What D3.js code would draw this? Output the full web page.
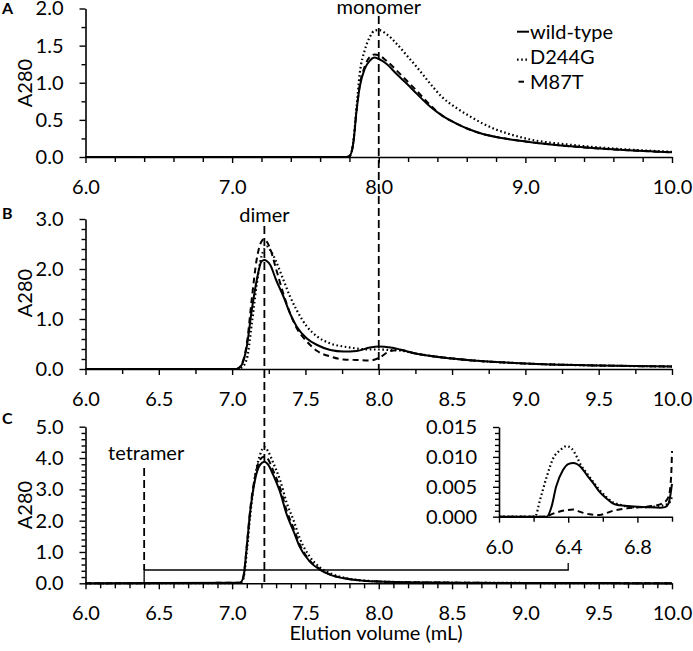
<!DOCTYPE html>
<html><head><meta charset="utf-8">
<script src="https://cdn.jsdelivr.net/npm/d3@7"></script>
<style>
body{margin:0;background:#fff}
svg text{font-family:Lato,'Open Sans',sans-serif;fill:#000}
</style>
</head><body>
<svg id="c" width="693" height="651"></svg>
<script>
// ---------- DATA ----------
const seriesNames = ["wild-type", "D244G", "M87T"];

// Panel A (monomer)
const aX      = [6.0, 7.78, 7.80, 7.826, 7.849, 7.87, 7.905, 7.94, 7.97, 8.0, 8.05, 8.12, 8.19, 8.26, 8.35, 8.43, 8.53, 8.62, 8.71, 8.80, 8.89, 9.0, 9.33, 9.67, 10.0];
const aWild   = [0, 0, 0.01, 0.18, 0.63, 0.94, 1.19, 1.30, 1.34, 1.32, 1.26, 1.12, 0.99, 0.85, 0.68, 0.56, 0.45, 0.37, 0.31, 0.27, 0.24, 0.21, 0.14, 0.094, 0.063];
const aD244G  = [0, 0, 0.01, 0.20, 0.68, 1.12, 1.44, 1.62, 1.70, 1.71, 1.66, 1.53, 1.37, 1.21, 0.99, 0.81, 0.66, 0.55, 0.45, 0.37, 0.31, 0.25, 0.16, 0.105, 0.07];
const aM87T   = [0, 0, 0.01, 0.18, 0.63, 0.96, 1.22, 1.35, 1.38, 1.37, 1.30, 1.17, 1.03, 0.89, 0.70, 0.56, 0.45, 0.37, 0.31, 0.27, 0.24, 0.21, 0.14, 0.094, 0.063];

// Panel B (dimer)
const bX      = [6.0, 7.03, 7.065, 7.10, 7.134, 7.168, 7.20, 7.22, 7.236, 7.26, 7.30, 7.35, 7.395, 7.44, 7.51, 7.58, 7.67, 7.76, 7.85, 7.94, 8.0, 8.08, 8.145, 8.25, 8.5, 9.0, 9.5, 10.0];
const bWild   = [0, 0, 0.08, 0.45, 1.18, 1.78, 2.15, 2.18, 2.16, 2.08, 1.78, 1.45, 1.11, 0.85, 0.61, 0.48, 0.38, 0.35, 0.36, 0.43, 0.45, 0.43, 0.39, 0.31, 0.21, 0.11, 0.07, 0.05];
const bD244G  = [0, 0, 0.03, 0.20, 0.90, 1.70, 2.25, 2.40, 2.45, 2.38, 2.15, 1.78, 1.45, 1.18, 0.85, 0.65, 0.51, 0.45, 0.41, 0.39, 0.39, 0.38, 0.37, 0.31, 0.21, 0.11, 0.07, 0.05];
const bM87T   = [0, 0, 0.10, 0.50, 1.40, 2.20, 2.55, 2.60, 2.55, 2.40, 2.00, 1.50, 1.12, 0.82, 0.55, 0.36, 0.25, 0.19, 0.18, 0.17, 0.22, 0.36, 0.38, 0.31, 0.21, 0.11, 0.07, 0.05];

// Panel C (tetramer)
const cX      = [6.0, 7.054, 7.077, 7.10, 7.122, 7.156, 7.19, 7.22, 7.247, 7.28, 7.33, 7.37, 7.42, 7.46, 7.53, 7.60, 7.67, 7.76, 7.895, 8.12, 8.5, 9.0, 9.7, 10.0];
const cWild   = [0, 0.02, 0.20, 1.17, 2.23, 3.30, 3.78, 3.88, 3.78, 3.46, 2.87, 2.23, 1.65, 1.17, 0.69, 0.43, 0.27, 0.16, 0.085, 0.04, 0.02, 0.01, 0.005, 0];
const cD244G  = [0, 0.01, 0.15, 1.00, 2.10, 3.40, 4.10, 4.35, 4.20, 3.85, 3.25, 2.60, 2.00, 1.45, 0.85, 0.50, 0.32, 0.18, 0.09, 0.04, 0.02, 0.01, 0.005, 0];
const cM87T   = [0, 0.02, 0.22, 1.20, 2.30, 3.40, 3.95, 4.05, 3.95, 3.60, 3.00, 2.35, 1.75, 1.25, 0.72, 0.45, 0.28, 0.17, 0.085, 0.04, 0.02, 0.01, 0.005, 0];

// Inset (panel C, 6.0 - 7.0 mL)
const iWildX  = [6.0, 6.276, 6.304, 6.33, 6.37, 6.40, 6.43, 6.47, 6.507, 6.545, 6.58, 6.62, 6.66, 6.70, 6.78, 6.85, 6.93, 6.96, 6.98, 6.99, 7.0];
const iWildY  = [0, 0, 0.0017, 0.0050, 0.0078, 0.0088, 0.0090, 0.0084, 0.0070, 0.0056, 0.0042, 0.0031, 0.0022, 0.0019, 0.0017, 0.0016, 0.0015, 0.0016, 0.0022, 0.0035, 0.0055];
const iD244GX = [6.0, 6.208, 6.237, 6.276, 6.314, 6.353, 6.39, 6.42, 6.45, 6.47, 6.507, 6.545, 6.58, 6.62, 6.66, 6.70, 6.78, 6.85, 6.93, 6.98, 7.0];
const iD244GY = [0, 0, 0.0028, 0.0067, 0.0098, 0.0111, 0.0118, 0.0114, 0.0100, 0.0088, 0.0073, 0.0058, 0.0045, 0.0033, 0.0024, 0.0020, 0.0016, 0.0016, 0.0018, 0.0022, 0.0033];
const iM87TX  = [6.0, 6.257, 6.33, 6.39, 6.43, 6.47, 6.525, 6.58, 6.66, 6.74, 6.81, 6.89, 6.95, 6.98, 6.995, 7.0];
const iM87TY  = [0, 0, 0.0007, 0.0011, 0.0012, 0.0008, 0.0004, 0.0003, 0.0010, 0.0014, 0.0016, 0.0018, 0.0023, 0.0033, 0.0067, 0.0110];

// Tick labels
const aXLabels = [6.0, 7.0, 8.0, 9.0, 10.0];
const bcXLabels = [6.0, 6.5, 7.0, 7.5, 8.0, 8.5, 9.0, 9.5, 10.0];
const aYLabels = [0.0, 0.5, 1.0, 1.5, 2.0];
const bYLabels = [0.0, 1.0, 2.0, 3.0];
const cYLabels = [0.0, 1.0, 2.0, 3.0, 4.0, 5.0];
const iXLabels = [6.0, 6.4, 6.8];
const iYLabels = [0.000, 0.005, 0.010, 0.015];

// Reference elution volumes
const markers = [{label: "monomer", v: 8.0}, {label: "dimer", v: 7.22}, {label: "tetramer", v: 6.4}];

// ---------- DRAWING ----------
const svg = d3.select('#c');
const FS = 20;
const styles = {
  "wild-type": {dash: null, w: 2},
  "D244G": {dash: "1.6,2.6", w: 2.2},
  "M87T": {dash: "6,4", w: 2}
};

const x = d3.scaleLinear().domain([6, 10]).range([85.5, 672]);

function mk(minStep, lo, hi) {
  const n = Math.round((hi - lo) / minStep);
  return d3.range(n + 1).map(i => +(lo + i * minStep).toFixed(4));
}

function drawAxes(g, xs, ys, xMinor, xLabels, xFmt, yMinor, yLabels, yFmt) {
  const isMaj = (arr, v) => arr.some(a => Math.abs(a - v) < 1e-6);
  const xa = d3.axisBottom(xs).tickValues(xMinor).tickSizeOuter(0).tickSizeInner(6).tickPadding(17)
    .tickFormat(v => isMaj(xLabels, v) ? xFmt(v) : "");
  const gx = g.append("g").attr("transform", `translate(0,${ys.range()[0]})`).call(xa);
  const ya = d3.axisLeft(ys).tickValues(yMinor).tickSizeOuter(0).tickSizeInner(6).tickPadding(16)
    .tickFormat(v => isMaj(yLabels, v) ? yFmt(v) : "");
  const gy = g.append("g").attr("transform", `translate(${xs.range()[0]},0)`).call(ya);
  [gx, gy].forEach(a => {
    a.attr("font-size", FS).attr("font-family", "Lato, 'Open Sans', sans-serif");
    a.select(".domain").attr("stroke-width", 1.6);
    a.selectAll(".tick line").attr("stroke-width", 1.4);
    a.selectAll(".tick text").attr("fill", "#000");
  });
  gx.selectAll(".tick").filter(v => !isMaj(xLabels, v)).select("line").attr("y2", 5);
  gy.selectAll(".tick").filter(v => !isMaj(yLabels, v)).select("line").attr("x2", -4);
}

function drawSeries(g, xs, ys, xsArr, ysArr, name) {
  const pts = xsArr.map((v, i) => [v, ysArr[i]]);
  const line = d3.line().x(d => xs(d[0])).y(d => ys(d[1])).curve(d3.curveMonotoneX);
  const st = styles[name];
  g.append("path").attr("d", line(pts)).attr("fill", "none").attr("stroke", "#000")
    .attr("stroke-width", st.w).attr("stroke-dasharray", st.dash)
    .attr("stroke-linejoin", "round");
}

function yTitle(cy) {
  svg.append("text").attr("transform", `translate(32,${cy}) rotate(-90)`)
    .attr("text-anchor", "middle").attr("font-size", FS).text("A280");
}
function letter(t, yb) {
  svg.append("text").attr("x", 2).attr("y", yb).attr("font-size", 16).attr("font-weight", "bold").text(t);
}

const f1 = d3.format(".1f"), f3 = d3.format(".3f");

// Panel A
const yA = d3.scaleLinear().domain([0, 2]).range([157, 8.5]);
const gA = svg.append("g");
drawAxes(gA, x, yA, mk(0.2, 6, 10), aXLabels, f1, mk(0.25, 0, 2), aYLabels, f1);
drawSeries(gA, x, yA, aX, aD244G, "D244G");
drawSeries(gA, x, yA, aX, aM87T, "M87T");
drawSeries(gA, x, yA, aX, aWild, "wild-type");
yTitle(83); letter("A", 14);

// Panel B
const yB = d3.scaleLinear().domain([0, 3]).range([369, 219]);
const gB = svg.append("g");
drawAxes(gB, x, yB, mk(0.25, 6, 10), bcXLabels, f1, mk(0.2, 0, 3), bYLabels, f1);
drawSeries(gB, x, yB, bX, bD244G, "D244G");
drawSeries(gB, x, yB, bX, bM87T, "M87T");
drawSeries(gB, x, yB, bX, bWild, "wild-type");
yTitle(293); letter("B", 219);

// Panel C
const yC = d3.scaleLinear().domain([0, 5]).range([583.3, 426.7]);
const gC = svg.append("g");
drawAxes(gC, x, yC, mk(0.1, 6, 10), bcXLabels, f1, mk(0.2, 0, 5), cYLabels, f1);
drawSeries(gC, x, yC, cX, cD244G, "D244G");
drawSeries(gC, x, yC, cX, cM87T, "M87T");
drawSeries(gC, x, yC, cX, cWild, "wild-type");
yTitle(505); letter("C", 424);

// Inset
const xi = d3.scaleLinear().domain([6, 7]).range([499, 672]);
const yi = d3.scaleLinear().domain([0, 0.015]).range([516.7, 427]);
const gI = svg.append("g");
drawAxes(gI, xi, yi, mk(0.2, 6, 7), iXLabels, f1, mk(0.001, 0, 0.015), iYLabels, f3);
drawSeries(gI, xi, yi, iD244GX, iD244GY, "D244G");
drawSeries(gI, xi, yi, iM87TX, iM87TY, "M87T");
drawSeries(gI, xi, yi, iWildX, iWildY, "wild-type");

// Bracket linking main axis (6.4) to inset
svg.append("path")
  .attr("d", `M${x(6.4)},${yC(0)} V${570} H${xi(6.4)} V${563}`)
  .attr("fill", "none").attr("stroke", "#000").attr("stroke-width", 1.3);

// Reference dashed lines + labels
const refDash = "8,4";
const mono = markers[0], dim = markers[1], tet = markers[2];
svg.append("line").attr("x1", x(mono.v)).attr("x2", x(mono.v)).attr("y1", 16).attr("y2", yB(0))
  .attr("stroke", "#000").attr("stroke-width", 1.8).attr("stroke-dasharray", refDash);
svg.append("text").attr("x", x(mono.v)).attr("y", 14).attr("text-anchor", "middle").attr("font-size", FS).text(mono.label);
svg.append("line").attr("x1", x(dim.v)).attr("x2", x(dim.v)).attr("y1", 226).attr("y2", yC(0))
  .attr("stroke", "#000").attr("stroke-width", 1.8).attr("stroke-dasharray", refDash);
svg.append("text").attr("x", x(dim.v)).attr("y", 222).attr("text-anchor", "middle").attr("font-size", FS).text(dim.label);
svg.append("line").attr("x1", x(tet.v)).attr("x2", x(tet.v)).attr("y1", 468).attr("y2", 570)
  .attr("stroke", "#000").attr("stroke-width", 1.8).attr("stroke-dasharray", refDash);
svg.append("text").attr("x", x(tet.v) + 2).attr("y", 460).attr("text-anchor", "middle").attr("font-size", FS).text(tet.label);

// X title
svg.append("text").attr("x", 376).attr("y", 640).attr("text-anchor", "middle").attr("font-size", FS).text("Elution volume (mL)");

// Legend
const legY = [31.7, 56.7, 81.7];
const legSym = [[517, 529], [517, 529], [518.5, 524]];
seriesNames.forEach((n, i) => {
  const st = styles[n];
  const ly = i === 1 ? legY[i] + 3 : legY[i];
  svg.append("line").attr("x1", legSym[i][0]).attr("x2", legSym[i][1]).attr("y1", ly).attr("y2", ly)
    .attr("stroke", "#000").attr("stroke-width", st.w).attr("stroke-dasharray", i === 2 ? null : st.dash);
  svg.append("text").attr("x", 530).attr("y", legY[i]).attr("dy", "0.35em").attr("font-size", FS).text(n);
});
</script>
</body></html>
